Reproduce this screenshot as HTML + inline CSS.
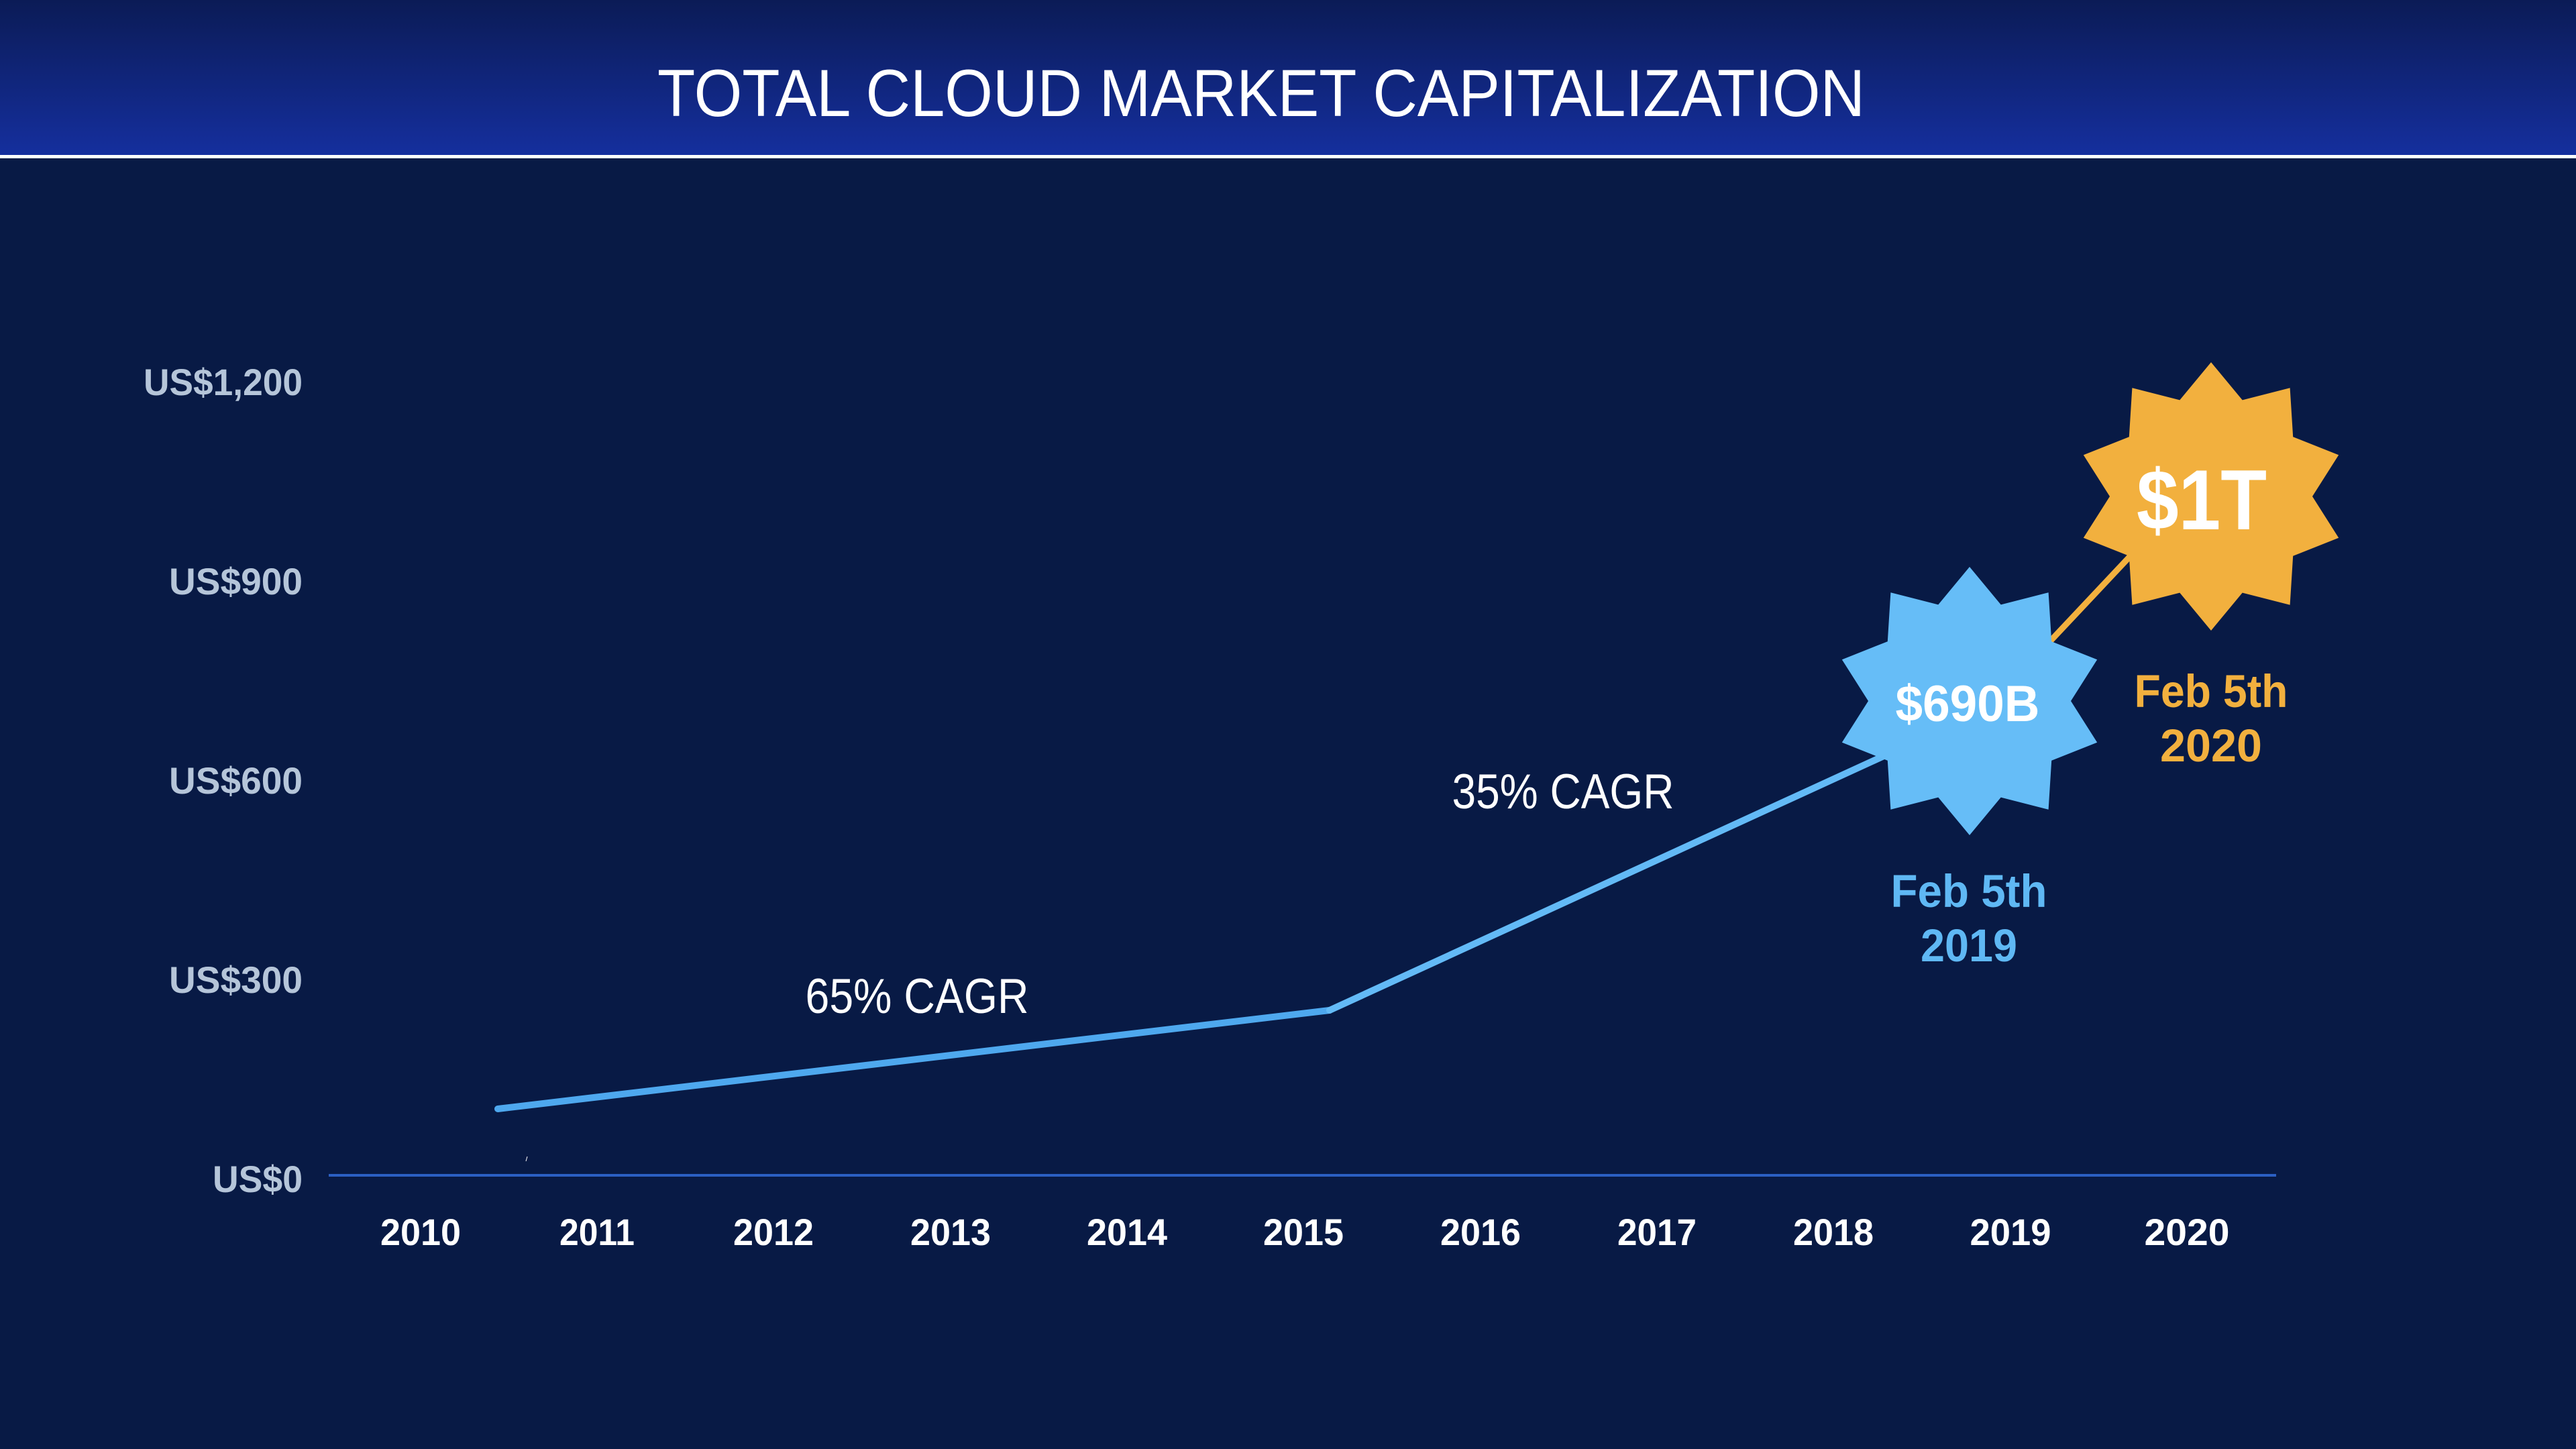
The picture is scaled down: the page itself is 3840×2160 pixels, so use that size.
<!DOCTYPE html>
<html>
<head>
<meta charset="utf-8">
<style>
  html, body { margin: 0; padding: 0; background: #081a45; }
  body { width: 3840px; height: 2160px; overflow: hidden; }
  svg { display: block; }
  text { font-family: "Liberation Sans", "DejaVu Sans", sans-serif; }
</style>
</head>
<body>
<svg width="3840" height="2160" viewBox="0 0 3840 2160" xmlns="http://www.w3.org/2000/svg">
  <defs>
    <linearGradient id="hdr" x1="0" y1="0" x2="0" y2="1">
      <stop offset="0" stop-color="#0b1b56"/>
      <stop offset="1" stop-color="#152f9e"/>
    </linearGradient>
  </defs>

  <!-- background -->
  <rect x="0" y="0" width="3840" height="2160" fill="#081a45"/>
  <!-- header -->
  <rect x="0" y="0" width="3840" height="232" fill="url(#hdr)"/>
  <rect x="0" y="231" width="3840" height="5" fill="#ffffff"/>
  <text x="980" y="173" font-size="99" fill="#ffffff" textLength="1800" lengthAdjust="spacingAndGlyphs">TOTAL CLOUD MARKET CAPITALIZATION</text>

  <!-- y-axis labels -->
  <g font-size="56" font-weight="bold" fill="#b5c5d9" text-anchor="end">
    <text x="451" y="589" textLength="237" lengthAdjust="spacingAndGlyphs">US$1,200</text>
    <text x="451" y="886" textLength="199" lengthAdjust="spacingAndGlyphs">US$900</text>
    <text x="451" y="1183" textLength="199" lengthAdjust="spacingAndGlyphs">US$600</text>
    <text x="451" y="1480" textLength="199" lengthAdjust="spacingAndGlyphs">US$300</text>
    <text x="451" y="1777" textLength="134" lengthAdjust="spacingAndGlyphs">US$0</text>
  </g>

  <!-- axis line -->
  <rect x="490" y="1750" width="2903" height="4" fill="#2b5fc3"/>
  <!-- tiny artifact -->
  <line x1="786" y1="1724" x2="784" y2="1731" stroke="#ffffff" stroke-width="1"/>

  <!-- x-axis labels -->
  <g font-size="56" font-weight="bold" fill="#ffffff" text-anchor="middle">
    <text x="627" y="1856" textLength="120" lengthAdjust="spacingAndGlyphs">2010</text>
    <text x="890" y="1856" textLength="112" lengthAdjust="spacingAndGlyphs">2011</text>
    <text x="1153" y="1856" textLength="120" lengthAdjust="spacingAndGlyphs">2012</text>
    <text x="1417" y="1856" textLength="120" lengthAdjust="spacingAndGlyphs">2013</text>
    <text x="1680" y="1856" textLength="120" lengthAdjust="spacingAndGlyphs">2014</text>
    <text x="1943" y="1856" textLength="120" lengthAdjust="spacingAndGlyphs">2015</text>
    <text x="2207" y="1856" textLength="120" lengthAdjust="spacingAndGlyphs">2016</text>
    <text x="2470" y="1856" textLength="118" lengthAdjust="spacingAndGlyphs">2017</text>
    <text x="2733" y="1856" textLength="120" lengthAdjust="spacingAndGlyphs">2018</text>
    <text x="2997" y="1856" textLength="121" lengthAdjust="spacingAndGlyphs">2019</text>
    <text x="3260" y="1856" textLength="127" lengthAdjust="spacingAndGlyphs">2020</text>
  </g>

  <!-- CAGR labels -->
  <g font-size="73" fill="#ffffff" text-anchor="middle">
    <text x="1367" y="1510" textLength="333" lengthAdjust="spacingAndGlyphs">65% CAGR</text>
    <text x="2330" y="1205" textLength="331" lengthAdjust="spacingAndGlyphs">35% CAGR</text>
  </g>

  <!-- series line -->
  <line x1="742" y1="1653" x2="1982" y2="1506" stroke="#4ea8ee" stroke-width="10" stroke-linecap="round"/>
  <line x1="1982" y1="1506" x2="2880" y2="1094" stroke="#63baf6" stroke-width="10" stroke-linecap="round"/>
  <!-- orange connector -->
  <line x1="3010" y1="1005" x2="3215" y2="787" stroke="#f2b03e" stroke-width="9"/>

  <!-- blue star -->
  <g transform="translate(2936,1045)">
    <polygon fill="#66bdf7" points="0,-200 46.7,-143.6 117.6,-161.8 122.2,-88.8 190.2,-61.8 151,0 190.2,61.8 122.2,88.8 117.6,161.8 46.7,143.6 0,200 -46.7,143.6 -117.6,161.8 -122.2,88.8 -190.2,61.8 -151,0 -190.2,-61.8 -122.2,-88.8 -117.6,-161.8 -46.7,-143.6"/>
  </g>
  <!-- orange star -->
  <g transform="translate(3296,740)">
    <polygon fill="#f2b03e" points="0,-200 46.7,-143.6 117.6,-161.8 122.2,-88.8 190.2,-61.8 151,0 190.2,61.8 122.2,88.8 117.6,161.8 46.7,143.6 0,200 -46.7,143.6 -117.6,161.8 -122.2,88.8 -190.2,61.8 -151,0 -190.2,-61.8 -122.2,-88.8 -117.6,-161.8 -46.7,-143.6"/>
  </g>

  <!-- star labels -->
  <text x="2933" y="1075" font-size="76" font-weight="bold" fill="#ffffff" text-anchor="middle" textLength="215" lengthAdjust="spacingAndGlyphs">$690B</text>
  <text x="3282" y="789" font-size="127" font-weight="bold" fill="#ffffff" text-anchor="middle" textLength="194" lengthAdjust="spacingAndGlyphs">$1T</text>

  <!-- date labels -->
  <g font-size="69" font-weight="bold" text-anchor="middle">
    <text x="3296" y="1054" fill="#f2b03e" textLength="229" lengthAdjust="spacingAndGlyphs">Feb 5th</text>
    <text x="3296" y="1135" fill="#f2b03e" textLength="152" lengthAdjust="spacingAndGlyphs">2020</text>
    <text x="2935" y="1352" fill="#5fb8f4" textLength="233" lengthAdjust="spacingAndGlyphs">Feb 5th</text>
    <text x="2935" y="1433" fill="#5fb8f4" textLength="144" lengthAdjust="spacingAndGlyphs">2019</text>
  </g>
</svg>
</body>
</html>
